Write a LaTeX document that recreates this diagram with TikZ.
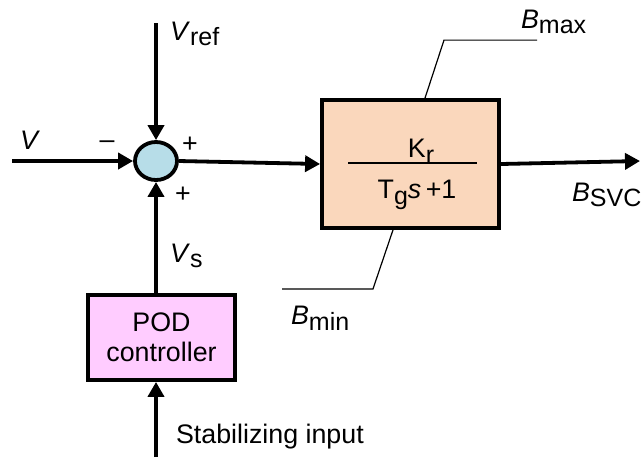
\documentclass[tikz,border=0pt]{standalone}
\usepackage{fontspec}
\setmainfont{Liberation Sans}
\usetikzlibrary{arrows.meta,shapes.geometric}
\definecolor{sumblue}{HTML}{B7DDE8}
\definecolor{peach}{HTML}{FAD7BC}
\definecolor{podpink}{HTML}{FFCCFF}
\newcommand{\lowsub}[1]{\raisebox{-.4ex}{\fontsize{12.5}{13}\selectfont #1}}

\begin{document}
\begin{tikzpicture}[
  x=.5pt,y=-.5pt,
  font=\fontsize{13.4}{15}\selectfont,
  signal/.style={
    line width=1.9pt,
    -{Triangle[length=7.5pt,width=8pt]}
  },
  limit/.style={
    line width=.6pt
  },
  sumjunction/.style={
    ellipse,
    draw,
    line width=1.9pt,
    fill=sumblue,
    minimum width=21pt,
    minimum height=19pt,
    inner sep=0pt
  },
  blockbox/.style={
    rectangle,
    draw,
    line width=1.9pt,
    align=center,
    inner sep=0pt
  }
]

\useasboundingbox (0,0) rectangle (641,457);

\node[sumjunction] (sum) at (156,161) {};

\node[blockbox,fill=peach,minimum width=88.5pt,minimum height=64pt]
  (gain) at (410.5,164) {};
\node (num) at (421,151) {K\lowsub{r}};
\node (den) at (417,195) {T\lowsub{g}\textit{s}\,+1};
\coordinate (fracl) at (348,163);
\coordinate (fracr) at (477,163);
\draw[line width=.8pt] (fracl) -- (fracr);

\node[blockbox,fill=podpink,minimum width=73.5pt,minimum height=42.5pt]
  (pod) at (161.5,337.5) {POD\\controller};

% inputs and output
\coordinate (vin)  at (12,161);
\coordinate (vref) at (156,23);
\coordinate (stab) at (156,457);
\coordinate (bout) at (640,161);

\draw[signal] (vin) -- (sum.west);
\draw[signal] (vref) -- (sum.north);
\draw[signal] (sum.east) -- (gain.west);
\draw[signal] (gain.east) -- (bout);
\draw[signal] (pod.north -| sum.south) -- (sum.south);
\draw[signal] (stab) -- (stab |- pod.south);

% limits
\draw[limit] ([xshift=7.25pt]gain.north) -- ++(19,-58) -- ++(93,0);
\draw[limit] ([xshift=-8.75pt]gain.south) -- ++(-20,59) -- ++(-91,0);

% labels
\node (lv)    at (30,140)  {\textit{V}};
\node (lneg)  at (107,145) {--};
\node[anchor=west] (lvref) at (163,34) {\textit{V}\lowsub{ref}};
\node (lpos1) at (190,145) {+};
\node (lpos2) at (183,195) {+};
\node[anchor=west] (lvs) at (163,256) {\textit{V}\lowsub{s}};
\node[anchor=west] (lstab) at (169,437) {Stabilizing input};
\node[anchor=west] (lbsvc) at (565,195) {\textit{B}\lowsub{SVC}};
\node[anchor=west] (lbmax) at (514,22)  {\textit{B}\lowsub{max}};
\node[anchor=west] (lbmin) at (284,318) {\textit{B}\lowsub{min}};

\end{tikzpicture}
\end{document}
